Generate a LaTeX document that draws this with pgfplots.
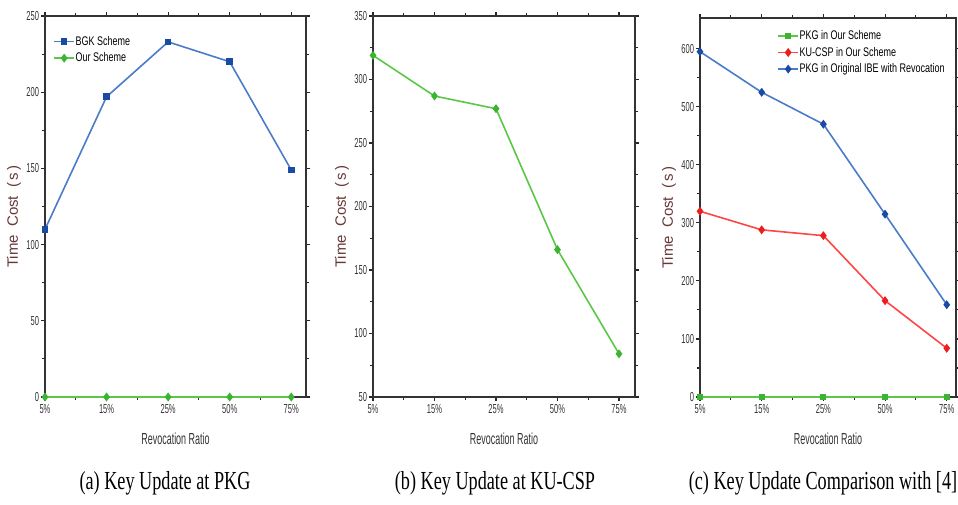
\documentclass[border=0pt]{standalone}
\usepackage{fontspec}
\setmainfont{Liberation Sans}
\newfontfamily\capfont{Liberation Serif}
\usepackage{pgfplots}
\pgfplotsset{compat=1.18}
\definecolor{ylab}{RGB}{105,55,55}
\definecolor{bline}{RGB}{74,124,199}
\definecolor{bmark}{RGB}{25,75,165}
\definecolor{gline}{RGB}{90,200,70}
\definecolor{gmark}{RGB}{60,180,50}
\definecolor{rline}{RGB}{255,70,70}
\definecolor{rmark}{RGB}{235,30,30}
\pgfplotsset{
  panel/.style={
    scale only axis, anchor=south west, clip=false,
    xmin=0, xtick={0,1,2,3,4}, xticklabels={5\%,15\%,25\%,50\%,75\%},
    minor x tick num=1, minor y tick num=1,
    tick pos=both, tick align=outside,
    axis line style={line width=1.3pt, black!80},
    major tick length=4pt, minor tick length=3pt,
    every tick/.style={black!85, line width=1.1pt},
    /pgf/number format/assume math mode=true,
    ticklabel style={font=\fontsize{13}{13}\selectfont, xscale=0.58, text=black!80},
    xlabel={Revocation Ratio},
    xlabel style={font=\fontsize{16}{16}\selectfont, xscale=0.56, text=black!80, yshift=-12pt},
    ylabel={Time~~Cost~~(\,s\,)},
    ylabel style={font=\fontsize{15}{15}\selectfont, text=ylab, xshift=-10pt},
    legend style={draw=none, fill=none, font=\fontsize{12.5}{12.5}\selectfont, row sep=4pt,
      nodes={xscale=0.72, inner sep=1pt}},
    legend cell align=left,
    legend image code/.code={\draw[mark repeat=2,mark phase=2,##1] plot coordinates {(0cm,0cm) (0.35cm,0cm) (0.7cm,0cm)};},
  },
  bser/.style={color=bline, line width=1.6pt, mark=square*, mark size=2.5pt, mark options={fill=bmark, draw=bmark}},
  bdser/.style={color=bline, line width=1.6pt, mark=diamond*, mark size=3.2pt, mark options={fill=bmark, draw=bmark}},
  gser/.style={color=gline, line width=1.6pt, mark=diamond*, mark size=3.2pt, mark options={fill=gmark, draw=gmark}},
  gsser/.style={color=gline, line width=1.6pt, mark=square*, mark size=2.3pt, mark options={fill=gmark, draw=gmark}},
  rser/.style={color=rline, line width=1.6pt, mark=diamond*, mark size=3.2pt, mark options={fill=rmark, draw=rmark}},
}
\begin{document}
\begin{tikzpicture}
\path[use as bounding box] (0,0) rectangle (958pt,504pt);
% (a)
\begin{axis}[panel, at={(45pt,107pt)}, width=261pt, height=381pt,
  xmax=4.24, ymin=0, ymax=250, ytick={0,50,100,150,200,250},
  legend style={at={(0.02,0.955)}, anchor=north west}]
\addplot[bser] coordinates {(0,110) (1,197) (2,233) (3,220) (4,149)};
\addlegendentry{BGK Scheme}
\addplot[gser] coordinates {(0,0) (1,0) (2,0) (3,0) (4,0)};
\addlegendentry{Our Scheme}
\end{axis}
% (b)
\begin{axis}[panel, at={(373pt,107pt)}, width=262pt, height=381pt,
  xmax=4.26, ymin=50, ymax=350, ytick={50,100,150,200,250,300,350}]
\addplot[gser] coordinates {(0,319) (1,287) (2,277) (3,166) (4,84)};
\end{axis}
% (c)
\begin{axis}[panel, at={(700pt,107pt)}, width=256pt, height=379pt,
  xmax=4.15, ymin=0, ymax=653, ytick={0,100,200,300,400,500,600},
  legend style={at={(0.29,0.975)}, anchor=north west}]
\addplot[gsser] coordinates {(0,0) (1,0) (2,0) (3,0) (4,0)};
\addlegendentry{PKG in Our Scheme}
\addplot[rser] coordinates {(0,320) (1,288) (2,278) (3,166) (4,84)};
\addlegendentry{KU-CSP in Our Scheme}
\addplot[bdser] coordinates {(0,595) (1,525) (2,470) (3,315) (4,159)};
\addlegendentry{PKG in Original IBE with Revocation}
\end{axis}
\node[font=\capfont\fontsize{26}{26}\selectfont, xscale=0.7] at (165pt,21pt) {(a) Key Update at PKG};
\node[font=\capfont\fontsize{26}{26}\selectfont, xscale=0.7] at (495pt,21pt) {(b) Key Update at KU-CSP};
\node[font=\capfont\fontsize{26}{26}\selectfont, xscale=0.7] at (823pt,21pt) {(c) Key Update Comparison with [4]};
\end{tikzpicture}
\end{document}
